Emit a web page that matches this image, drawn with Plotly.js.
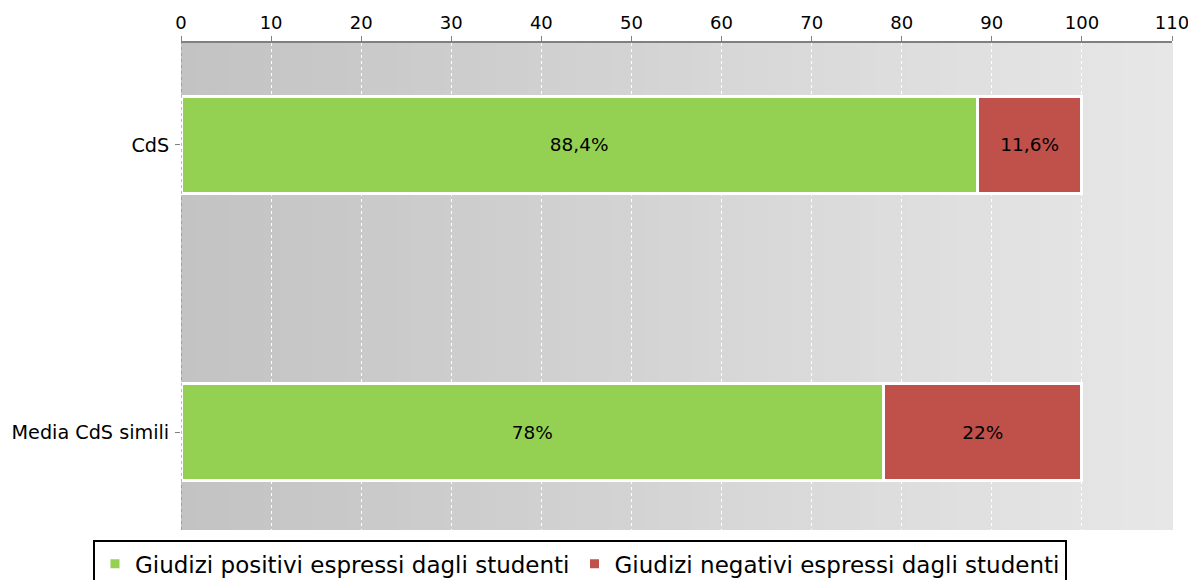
<!DOCTYPE html>
<html><head><meta charset="utf-8">
<script src="https://cdn.plot.ly/plotly-3.0.1.min.js"></script>
<style>html,body{margin:0;padding:0;background:#fff}#chart{width:1188px;height:580px}</style>
</head><body><div id="chart"></div>
<script>
const categories = ["CdS", "Media CdS simili"];
const positivi = [88.4, 78];
const negativi = [11.6, 22];
const seriesNames = ["Giudizi positivi espressi dagli studenti", "Giudizi negativi espressi dagli studenti"];
const xTicks = [0,10,20,30,40,50,60,70,80,90,100,110];

function fmt(v){ return String(v).replace('.', ',') + '%'; }

const font = "DejaVu Sans, Liberation Sans, sans-serif";
const traces = [
  {type:'bar', orientation:'h', name:seriesNames[0], y:categories, x:positivi,
   text:positivi.map(fmt), texttemplate:'%{text}', textposition:'inside', insidetextanchor:'middle',
   textfont:{color:'#000', size:18.5, family:font}, width:0.34,
   marker:{color:'#94d152', line:{color:'#ffffff', width:3}}, hoverinfo:'skip'},
  {type:'bar', orientation:'h', name:seriesNames[1], y:categories, x:negativi,
   text:negativi.map(fmt), texttemplate:'%{text}', textposition:'inside', insidetextanchor:'middle',
   textfont:{color:'#000', size:18.5, family:font}, width:0.34,
   marker:{color:'#c0504a', line:{color:'#ffffff', width:3}}, hoverinfo:'skip'}
];

// stepped gradient background for the plot area
const shapes = [];
const steps = 60;
for (let i = 0; i < steps; i++) {
  const t = i / (steps - 1);
  const c = Math.round(0xc3 + (0xe7 - 0xc3) * t);
  const col = 'rgb(' + c + ',' + c + ',' + c + ')';
  shapes.push({type:'rect', xref:'paper', yref:'paper', x0:i/steps, x1:(i+1)/steps + 0.001, y0:0, y1:1,
    fillcolor:col, line:{width:0}, layer:'below'});
}
shapes.push({type:'line', xref:'x', yref:'paper', x0:0, x1:0, y0:0, y1:1,
  line:{color:'#7a7a7a', width:1, dash:'dot'}, layer:'above'});

const layout = {
  width:1188, height:580,
  margin:{l:181, r:16, t:43, b:50, autoexpand:false},
  paper_bgcolor:'#ffffff', plot_bgcolor:'rgba(0,0,0,0)',
  barmode:'stack', bargap:0,
  font:{family:font, size:18, color:'#000'},
  showlegend:true,
  legend:{orientation:'h', x:0.4026, xanchor:'center', y:-0.021, yanchor:'top',
    bordercolor:'#000', borderwidth:2, bgcolor:'#fff', font:{size:23, family:font}, traceorder:'normal',
    itemwidth:30},
  xaxis:{side:'top', range:[0,110], tickvals:xTicks, ticktext:xTicks.map(String),
    ticks:'outside', ticklen:5, tickcolor:'#808080', showline:true, linecolor:'#808080', linewidth:2,
    showgrid:true, gridcolor:'#ffffff', griddash:'3px,3px', gridwidth:1, zeroline:false,
    ticklabeloverflow:'allow',
    tickfont:{size:18, color:'#000'}, fixedrange:true},
  yaxis:{type:'category', range:[1.341, -0.355], ticks:'outside', ticklen:5, tickcolor:'#808080',
    showline:false, showgrid:false, zeroline:false, tickfont:{size:19.2, color:'#000'}, ticklabelstandoff:2, fixedrange:true},
  shapes:shapes
};
Plotly.newPlot('chart', traces, layout, {displayModeBar:false, staticPlot:true});
</script></body></html>
